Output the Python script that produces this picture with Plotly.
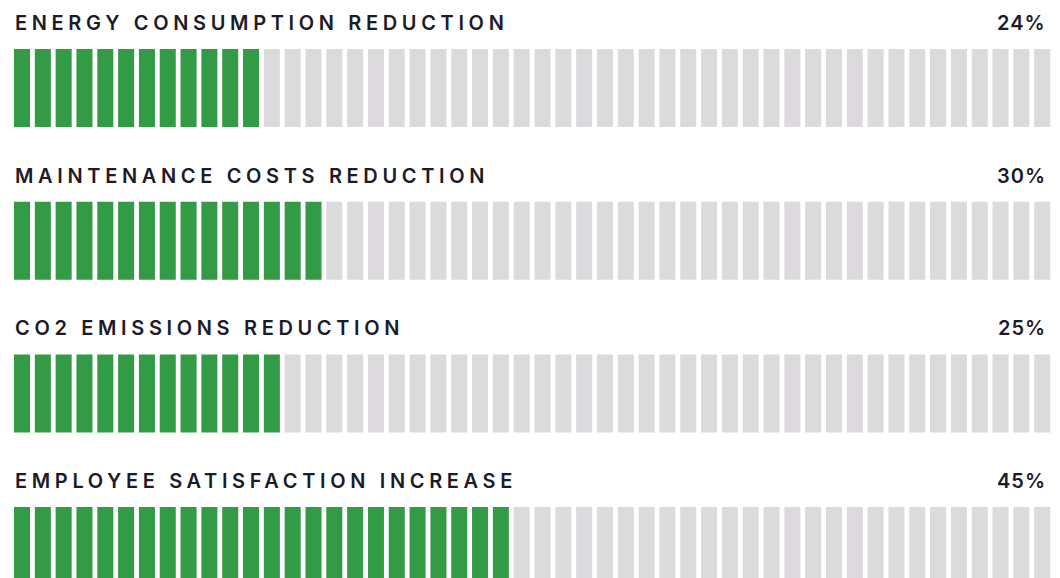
import plotly.graph_objects as go

# ---- data ----
categories = [
    "ENERGY CONSUMPTION REDUCTION",
    "MAINTENANCE COSTS REDUCTION",
    "CO2 EMISSIONS REDUCTION",
    "EMPLOYEE SATISFACTION INCREASE",
]
percent_labels = ["24%", "30%", "25%", "45%"]
filled_segments = [12, 15, 13, 24]
total_segments = 50

# ---- styling / layout constants ----
W, H = 1060, 578
PAGE_OFF = 8           # default body margin of the html page
GREEN = "#339a46"
GRAY = "#dcdadd"
TEXT = "#1c1c29"
pitch = 20.82          # px per segment
seg_frac = 0.77        # bar width fraction
left_px = 14 - PAGE_OFF
label_left = 12.5 - PAGE_OFF
row_top0 = 49 - PAGE_OFF
row_pitch = 152.7
bar_h = 78
label_offset = 26
pct_right = 1048 - PAGE_OFF

x0 = -seg_frac / 2 - left_px / pitch
x1 = x0 + W / pitch

fig = go.Figure()
seg_idx = list(range(total_segments))
for r, (cat, pl, nf) in enumerate(zip(categories, percent_labels, filled_segments)):
    top = row_top0 + r * row_pitch
    colors = [GREEN if i < nf else GRAY for i in seg_idx]
    fig.add_trace(go.Bar(
        x=seg_idx,
        y=[bar_h] * total_segments,
        base=[top] * total_segments,
        width=seg_frac,
        marker=dict(color=colors, line=dict(width=0)),
        hoverinfo="skip",
        showlegend=False,
    ))
    fig.add_annotation(
        x=label_left / W, xref="paper", xanchor="left",
        y=top - label_offset, yref="y", yanchor="middle",
        text=f'<span style="letter-spacing:4.65px">{cat}</span>',
        showarrow=False,
        font=dict(family="Inter", size=20, color=TEXT, weight=600),
    )
    fig.add_annotation(
        x=pct_right / W, xref="paper", xanchor="right",
        y=top - label_offset, yref="y", yanchor="middle",
        text=f'<span style="letter-spacing:1px">{pl}</span>',
        showarrow=False,
        font=dict(family="Inter", size=20, color=TEXT, weight=600),
    )

fig.update_layout(
    width=W, height=H,
    margin=dict(l=0, r=0, t=0, b=0),
    paper_bgcolor="white", plot_bgcolor="white",
    barmode="overlay",
    xaxis=dict(range=[x0, x1], visible=False, fixedrange=True),
    yaxis=dict(range=[H, 0], visible=False, fixedrange=True),
)

fig.write_html("out.html")
